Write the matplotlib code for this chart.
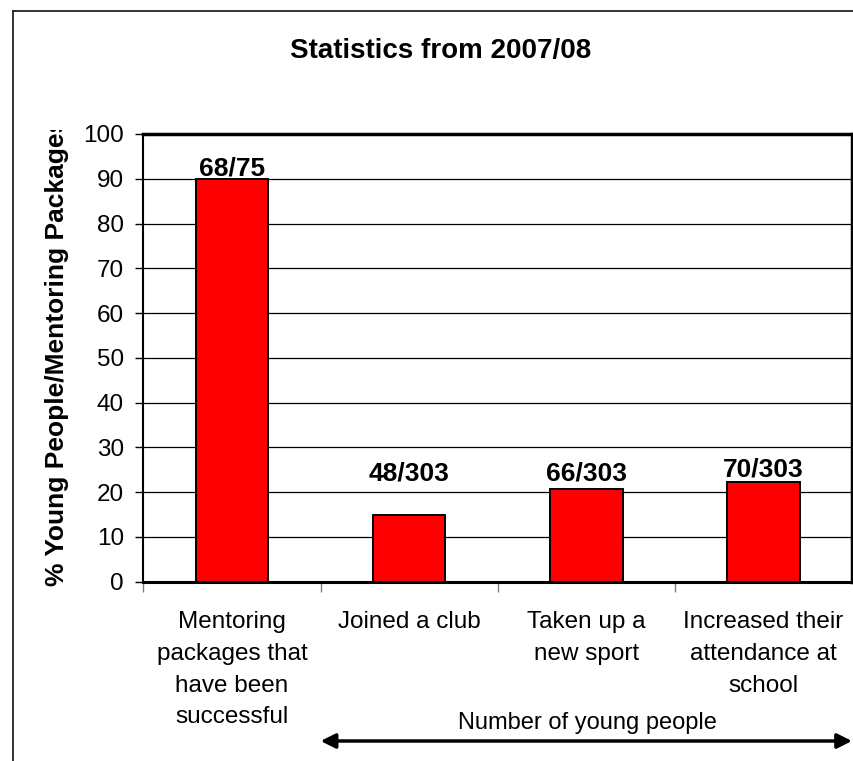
import matplotlib.pyplot as plt
from matplotlib.lines import Line2D
from matplotlib.transforms import Bbox, TransformedBbox

plt.rcParams['font.family'] = ['Liberation Sans', 'DejaVu Sans']

# data
categories = ['Mentoring\npackages that\nhave been\nsuccessful',
              'Joined a club',
              'Taken up a\nnew sport',
              'Increased their\nattendance at\nschool']
percent = [89.9, 14.8, 20.7, 22.2]
counts = ['68/75', '48/303', '66/303', '70/303']
yticks = [0, 10, 20, 30, 40, 50, 60, 70, 80, 90, 100]

W, H = 854, 761
fig = plt.figure(figsize=(W / 100, H / 100), dpi=100)
fig.patch.set_facecolor('white')

# outer chart frame (only top and left visible)
fig.add_artist(Line2D([13 / W, 13 / W], [0, 1 - 10.5 / H], color='#222222', lw=1.3))
fig.add_artist(Line2D([13 / W, 853 / W], [1 - 10.5 / H, 1 - 10.5 / H], color='#222222', lw=1.3))

ax = fig.add_axes([143.5 / W, 1 - 581.7 / H, (852 - 143.5) / W, (581.7 - 134) / H])
x = range(len(categories))
ax.bar(x, percent, width=0.41, color='#ff0000', edgecolor='black', linewidth=1.4, zorder=3)

ax.set_xlim(-0.5, 3.5)
ax.set_ylim(0, 100)
ax.set_yticks(yticks)
ax.yaxis.grid(True, color='black', linewidth=0.9, zorder=0)
ax.tick_params(axis='y', direction='out', length=6, width=1, pad=8, labelsize=17.5)

ax.set_xticks(list(x))
ax.set_xticklabels(categories, fontsize=17.5, linespacing=1.58)
ax.tick_params(axis='x', which='major', length=0, pad=21)
ax.set_xticks([-0.5, 0.5, 1.5, 2.5], minor=True)
ax.tick_params(axis='x', which='minor', direction='out', length=7, width=1, color='#808080')

for side in ['top', 'right']:
    ax.spines[side].set_linewidth(2.5)
ax.spines['left'].set_linewidth(1.5)
ax.spines['bottom'].set_linewidth(2.2)

# value labels above bars
label_y = [90.8, 22.7, 22.6, 23.5]
for xi, ly, txt in zip(x, label_y, counts):
    ax.text(xi, ly, txt, ha='center', va='baseline', fontsize=19, fontweight='bold')

fig.text(441 / W, 1 - 51 / H, 'Statistics from 2007/08', ha='center', va='center',
         fontsize=20, fontweight='bold')

yl = fig.text(57 / W, 1 - 586 / H, '% Young People/Mentoring Packages', rotation=90,
              ha='center', va='bottom', fontsize=19, fontweight='bold')
yl.set_clip_box(TransformedBbox(Bbox([[0, 0], [1, 1 - 130 / H]]), fig.transFigure))
yl.set_clip_on(True)

fig.text(587 / W, 1 - 723 / H, 'Number of young people', ha='center', va='center', fontsize=17)
ax.annotate('', xy=(0.5, 20 / H), xytext=(3.5, 20 / H),
            xycoords=('data', 'figure fraction'), textcoords=('data', 'figure fraction'),
            arrowprops=dict(arrowstyle='<|-|>', color='black', lw=2.5, mutation_scale=22,
                            shrinkA=0, shrinkB=0),
            annotation_clip=False)

plt.savefig('out.png', dpi=100)
